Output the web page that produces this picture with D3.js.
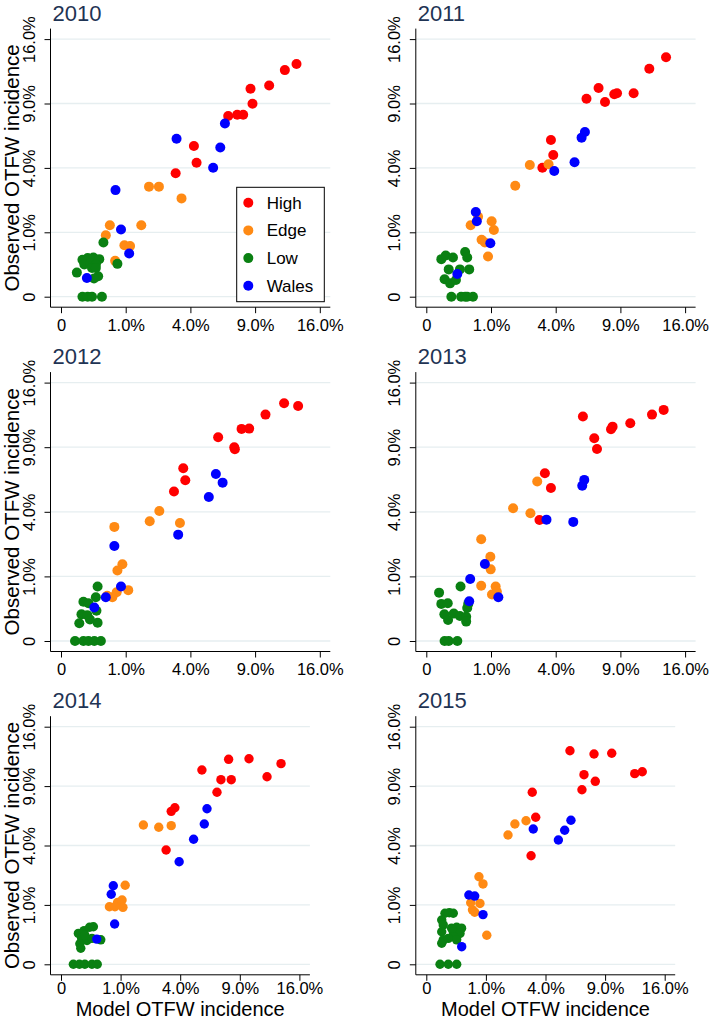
<!DOCTYPE html>
<html>
<head>
<meta charset="utf-8">
<script src="https://cdn.jsdelivr.net/npm/d3@7"></script>
<style>
body { margin:0; background:#fff; }
svg text { font-family: "Liberation Sans", Arial, Helvetica, sans-serif; }
</style>
</head>
<body>
<div class="container"></div>
<script>
// values are percentages: [model, observed]
const years = ["2010", "2011", "2012", "2013", "2014", "2015"];
const groups = ["High", "Edge", "Low", "Wales"];
const groupColors = ["#ff0000", "#ff8a14", "#0a8012", "#0000ff"];
const tickValues = [0, 1, 4, 9, 16];
const tickLabels = ["0", "1.0%", "4.0%", "9.0%", "16.0%"];

const high2010 = [[13.25,13.05],[11.97,12.38],[10.35,10.76],[8.58,10.43],[8.76,8.98],[6.68,7.87],[7.42,7.98],[7.93,7.98],[4.22,5.47],[4.39,4.33],[3.14,3.67]];
const edge2010 = [[1.85,2.92],[2.29,2.92],[3.47,2.33],[1.54,1.23],[0.57,1.23],[0.48,0.91],[0.96,0.64],[1.14,0.62],[0.70,0.31]];
const low2010 = [[0.43,0.71],[0.76,0.26],[0.11,0.33],[0.17,0.36],[0.25,0.37],[0.35,0.34],[0.13,0.25],[0.21,0.27],[0.29,0.25],[0.23,0.20],[0.29,0.20],[0.06,0.14],[0.33,0.10],[0.26,0.08],[0.11,0],[0.17,0],[0.23,0],[0.40,0]];
const wales2010 = [[6.42,7.24],[3.19,6.02],[6.06,5.37],[5.53,4.01],[0.71,2.74],[0.86,1.09],[1.11,0.45],[0.16,0.085]];

const high2011 = [[13.73,13.82],[11.88,12.53],[10.27,9.98],[8.44,9.88],[8.69,9.98],[7.63,9.14],[7.09,10.5],[6.13,9.45],[3.71,5.92],[3.85,4.84],[3.22,4.01]];
const edge2011 = [[2.56,4.18],[3.57,4.23],[1.89,2.97],[0.64,1.54],[0.47,1.23],[1.02,1.37],[1.09,1.07],[0.73,0.78],[0.82,0.71],[0.91,0.39]];
const low2011 = [[0.054,0.34],[0.09,0.41],[0.17,0.37],[0.36,0.48],[0.40,0.37],[0.12,0.18],[0.27,0.18],[0.44,0.18],[0.08,0.073],[0.135,0.043],[0.21,0.067],[0.15,0],[0.29,0],[0.36,0],[0.40,0],[0.52,0]];
const wales2011 = [[6.01,6.54],[5.76,6.10],[5.25,4.36],[3.91,3.81],[0.585,1.73],[0.61,1.37],[0.98,0.69],[0.23,0.124]];

const high2012 = [[11.89,13.55],[13.43,13.24],[9.99,12.28],[7.79,10.78],[8.46,10.81],[5.90,9.95],[7.17,9.0],[7.22,8.81],[3.57,7.15],[3.69,6.19],[3.05,5.35]];
const edge2012 = [[2.31,4.05],[1.88,3.44],[3.38,3.34],[0.68,3.12],[0.90,1.41],[0.76,1.19],[1.08,0.62],[0.74,0.57],[0.63,0.46],[0.51,0.49]];
const low2012 = [[0.32,0.71],[0.29,0.46],[0.12,0.37],[0.18,0.34],[0.10,0.17],[0.165,0.16],[0.30,0.22],[0.20,0.11],[0.08,0.075],[0.32,0.08],[0.047,0],[0.12,0],[0.18,0],[0.265,0],[0.38,0]];
const wales2012 = [[5.73,6.69],[6.24,6.01],[5.22,4.97],[3.28,2.71],[0.68,2.16],[0.86,0.71],[0.48,0.46],[0.265,0.27]];

const high2013 = [[13.46,12.8],[12.17,12.28],[5.86,12.07],[9.94,11.36],[8.29,11.01],[8.15,10.75],[6.74,9.85],[6.96,8.84],[3.36,6.74],[3.71,5.61],[3.06,3.51]];
const edge2013 = [[2.94,6.09],[1.80,4.22],[2.59,3.91],[0.72,2.48],[0.98,1.70],[0.99,1.23],[0.72,0.73],[1.15,0.71],[1.19,0.58],[1.03,0.52]];
const low2013 = [[0.039,0.56],[0.054,0.33],[0.11,0.34],[0.28,0.71],[0.078,0.17],[0.113,0.106],[0.18,0.18],[0.27,0.15],[0.38,0.14],[0.40,0.26],[0.42,0.33],[0.38,0.09],[0.08,0],[0.12,0],[0.23,0]];
const wales2013 = [[5.96,6.22],[5.81,5.78],[3.45,3.53],[5.16,3.40],[0.82,1.42],[0.46,0.92],[0.44,0.38],[1.24,0.46]];

const high2014 = [[13.63,11.41],[9.95,11.98],[7.91,11.91],[11.95,9.97],[5.59,10.7],[7.2,9.66],[8.16,9.66],[6.85,8.39],[3.65,6.95],[3.42,6.63],[3.11,3.70]];
const edge2014 = [[1.91,5.5],[2.69,5.32],[3.42,5.45],[1.16,1.77],[0.66,0.94],[0.90,1.08],[1.05,1.17],[1.08,0.92],[0.82,0.94]];
const low2014 = [[0.085,0.27],[0.15,0.32],[0.23,0.39],[0.295,0.40],[0.12,0.19],[0.19,0.16],[0.27,0.19],[0.10,0.12],[0.11,0.073],[0.445,0.17],[0.16,0.24],[0.043,0],[0.095,0],[0.16,0],[0.27,0],[0.37,0]];
const wales2014 = [[6.0,6.86],[5.78,5.58],[4.95,4.43],[3.93,2.98],[0.77,1.75],[0.71,1.39],[0.81,0.46],[0.36,0.18]];

const high2015 = [[5.81,12.93],[7.92,12.53],[9.68,12.62],[13.13,10.51],[12.23,10.3],[7.0,10.19],[8.04,9.49],[6.82,8.64],[3.16,8.39],[3.37,6.13],[3.09,3.34]];
const edge2015 = [[2.8,5.84],[2.21,5.58],[1.88,4.74],[0.78,2.17],[0.905,1.83],[0.81,1.05],[0.555,1.075],[0.60,0.84],[0.66,0.77],[1.03,0.24]];
const low2015 = [[0.098,0.74],[0.149,0.755],[0.205,0.74],[0.067,0.556],[0.081,0.44],[0.18,0.37],[0.26,0.39],[0.35,0.37],[0.067,0.30],[0.205,0.30],[0.32,0.27],[0.081,0.17],[0.205,0.216],[0.26,0.17],[0.067,0.125],[0.136,0.19],[0.053,0],[0.136,0],[0.26,0]];
const wales2015 = [[5.89,5.88],[5.39,5.09],[4.91,4.38],[3.22,5.19],[0.51,1.36],[0.66,1.32],[0.905,0.70],[0.353,0.088]];

const seriesByYear = {
  "2010": [high2010, edge2010, low2010, wales2010],
  "2011": [high2011, edge2011, low2011, wales2011],
  "2012": [high2012, edge2012, low2012, wales2012],
  "2013": [high2013, edge2013, low2013, wales2013],
  "2014": [high2014, edge2014, low2014, wales2014],
  "2015": [high2015, edge2015, low2015, wales2015]
};

var svg = d3.select('.container').append('svg').attr("width", 709).attr("height", 1020);

// layout of the 3x2 grid
const COL_X0 = [61, 426.3];
const ROW_Y0 = [296.7, 641, 964.3];
const ROW_XSTEP = [64.7, 64.7, 59.6];
const ROW_YSTEP = [64.4, 64.6, 59.4];
const ROW_XLABEL = [23.5, 23.5, 19];
const PAD = 10.5;
const TITLE_COLOR = "#1f3454";
const GRID_COLOR = "#e6eef0";

var drawPanel = function(year, i) {
  var col = i % 2, row = Math.floor(i / 2);
  var x = d3.scaleSqrt().domain([0, 16]).range([COL_X0[col], COL_X0[col] + 4 * ROW_XSTEP[row]]);
  var y = d3.scaleSqrt().domain([0, 16]).range([ROW_Y0[row], ROW_Y0[row] - 4 * ROW_YSTEP[row]]);
  var left = x(0) - PAD, right = x(16) + PAD, top = y(16) - PAD, bottom = y(0) + PAD;
  var r = row == 2 ? 4.7 : 5;

  var g = svg.append('g');

  g.selectAll('line.grid').data(tickValues).enter().append('line')
    .attr('class', 'grid')
    .attr('x1', left).attr('x2', right)
    .attr('y1', d => y(d)).attr('y2', d => y(d))
    .attr('stroke', GRID_COLOR).attr('stroke-width', 1.3);

  var fmt = d => tickLabels[tickValues.indexOf(d)];

  var yAxis = g.append('g').attr('transform', 'translate(' + left + ',0)')
    .call(d3.axisLeft(y).tickValues(tickValues).tickFormat(fmt).tickSize(6).tickSizeOuter(0));
  yAxis.select('.domain').remove();
  yAxis.selectAll('text')
    .attr('transform', 'rotate(-90)')
    .attr('x', 0).attr('y', -15.5).attr('dy', 0)
    .attr('text-anchor', 'middle')
    .attr('font-size', 16.5).attr('fill', '#000');

  var xAxis = g.append('g').attr('transform', 'translate(0,' + bottom + ')')
    .call(d3.axisBottom(x).tickValues(tickValues).tickFormat(fmt).tickSize(6).tickSizeOuter(0));
  xAxis.select('.domain').remove();
  xAxis.selectAll('text')
    .attr('y', ROW_XLABEL[row]).attr('dy', 0)
    .attr('font-size', 16.5).attr('fill', '#000');

  g.append('line').attr('x1', left).attr('x2', left).attr('y1', top).attr('y2', bottom)
    .attr('stroke', '#000').attr('stroke-width', 1);
  g.append('line').attr('x1', left).attr('x2', right).attr('y1', bottom).attr('y2', bottom)
    .attr('stroke', '#000').attr('stroke-width', 1);

  seriesByYear[year].forEach(function(pts, k) {
    g.append('g').selectAll('circle').data(pts).enter().append('circle')
      .attr('cx', d => x(d[0]))
      .attr('cy', d => y(d[1]))
      .attr('r', r)
      .attr('fill', groupColors[k]);
  });

  g.append('text')
    .attr('x', left + 2).attr('y', top - 8)
    .attr('font-size', 22).attr('fill', TITLE_COLOR)
    .text(year);

  if (col == 0) {
    g.append('text')
      .attr('transform', 'translate(18.6,' + ((top + bottom) / 2) + ') rotate(-90)')
      .attr('text-anchor', 'middle')
      .attr('font-size', 20.5)
      .text('Observed OTFW incidence');
  }
  if (row == 2) {
    g.append('text')
      .attr('x', (left + right) / 2).attr('y', 1015.7)
      .attr('text-anchor', 'middle')
      .attr('font-size', 20)
      .text('Model OTFW incidence');
  }
};

years.forEach(drawPanel);

// legend in the first panel
var legend = svg.append('g').attr('transform', 'translate(236.7,187.3)');
legend.append('rect')
  .attr('width', 87.6).attr('height', 114.4)
  .attr('fill', '#fff').attr('stroke', '#000').attr('stroke-width', 1);
var items = legend.selectAll('g.item').data(groups).enter().append('g')
  .attr('class', 'item')
  .attr('transform', (d, i) => 'translate(0,' + (15.4 + i * 27.7) + ')');
items.append('circle').attr('cx', 11.6).attr('cy', 0).attr('r', 5)
  .attr('fill', (d, i) => groupColors[i]);
items.append('text').attr('x', 30).attr('y', 6)
  .attr('font-size', 17)
  .text(d => d);
</script>
</body>
</html>
